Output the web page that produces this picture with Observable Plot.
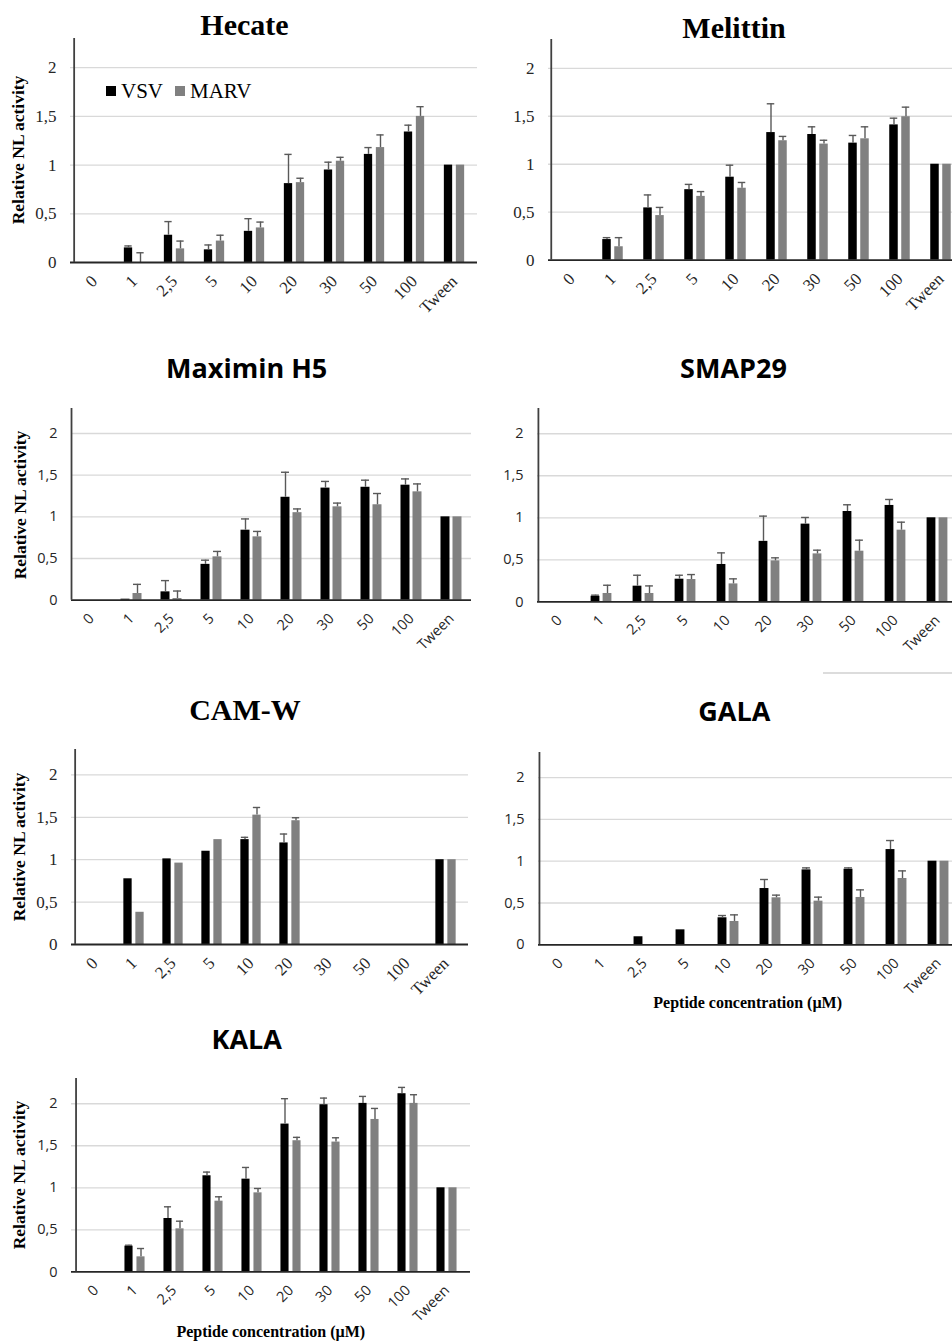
<!DOCTYPE html>
<html><head><meta charset="utf-8">
<script src="https://cdn.jsdelivr.net/npm/d3@7"></script>
<script src="https://cdn.jsdelivr.net/npm/@observablehq/plot@0.6"></script>
<style>
html,body{margin:0;padding:0;background:#fff;overflow:hidden;width:952px;height:1341px;}
#root{position:relative;width:952px;height:1341px;overflow:hidden;background:#fff;}
.t{position:absolute;white-space:nowrap;line-height:1;transform:translate(-50%,-50%);color:#000;}
.serif{font-family:"Liberation Serif","Times New Roman",serif;font-weight:bold;}
.sans{font-family:"Open Sans",sans-serif;font-weight:bold;}
.rot{transform:translate(-50%,-50%) rotate(-90deg);}
</style></head><body><div id="root"></div>
<script>
// ---------- data ----------
const categories = ["0","1","2,5","5","10","20","30","50","100","Tween"];
const seriesNames = ["VSV","MARV"];
const yTicks = [0, 0.5, 1, 1.5, 2];
const yTickLabels = ["0","0,5","1","1,5","2"];
const yLabel = "Relative NL activity";
const xLabel = "Peptide concentration (µM)";

const hecateVSV     = [0, 0.15, 0.28, 0.13, 0.32, 0.81, 0.95, 1.11, 1.34, 1];
const hecateVSVErr  = [null, 0.17, 0.42, 0.18, 0.45, 1.11, 1.03, 1.18, 1.41, null];
const hecateMARV    = [0, 0, 0.14, 0.22, 0.355, 0.82, 1.04, 1.18, 1.50, 1];
const hecateMARVErr = [null, 0.10, 0.22, 0.28, 0.415, 0.865, 1.08, 1.31, 1.60, null];

const melittinVSV     = [0, 0.215, 0.545, 0.735, 0.865, 1.33, 1.31, 1.22, 1.41, 1];
const melittinVSVErr  = [null, 0.235, 0.68, 0.79, 0.99, 1.63, 1.39, 1.30, 1.48, null];
const melittinMARV    = [0, 0.14, 0.465, 0.665, 0.75, 1.245, 1.21, 1.265, 1.495, 1];
const melittinMARVErr = [null, 0.235, 0.55, 0.715, 0.81, 1.29, 1.25, 1.39, 1.595, null];

const maximinVSV     = [0, 0.012, 0.10, 0.43, 0.84, 1.235, 1.345, 1.355, 1.38, 1];
const maximinVSVErr  = [null, null, 0.235, 0.48, 0.975, 1.535, 1.425, 1.44, 1.455, null];
const maximinMARV    = [0, 0.08, 0.02, 0.52, 0.76, 1.05, 1.12, 1.145, 1.30, 1];
const maximinMARVErr = [null, 0.19, 0.11, 0.585, 0.825, 1.095, 1.165, 1.28, 1.395, null];

const smapVSV     = [0, 0.067, 0.187, 0.27, 0.445, 0.72, 0.925, 1.075, 1.147, 1];
const smapVSVErr  = [null, 0.08, 0.317, 0.317, 0.583, 1.02, 1.004, 1.155, 1.218, null];
const smapMARV    = [0, 0.10, 0.10, 0.266, 0.214, 0.488, 0.571, 0.603, 0.853, 1];
const smapMARVErr = [null, 0.198, 0.19, 0.325, 0.274, 0.524, 0.615, 0.734, 0.948, null];

const camVSV     = [0, 0.775, 1.01, 1.10, 1.237, 1.198, null, null, null, 1];
const camVSVErr  = [null, null, null, null, 1.264, 1.303, null, null, null, null];
const camMARV    = [0, 0.38, 0.96, 1.237, 1.526, 1.46, null, null, null, 1];
const camMARVErr = [null, null, null, null, 1.616, 1.495, null, null, null, null];

const galaVSV     = [0, 0, 0.096, 0.179, 0.323, 0.673, 0.896, 0.904, 1.139, 1];
const galaVSVErr  = [null, null, null, null, 0.35, 0.781, 0.92, 0.92, 1.247, null];
const galaMARV    = [0, 0, 0, 0, 0.279, 0.562, 0.522, 0.566, 0.793, 1];
const galaMARVErr = [null, null, null, null, 0.358, 0.594, 0.57, 0.657, 0.884, null];

const kalaVSV     = [0, 0.306, 0.635, 1.143, 1.103, 1.758, 1.988, 2.004, 2.119, 1];
const kalaVSVErr  = [null, 0.317, 0.774, 1.187, 1.242, 2.06, 2.067, 2.087, 2.194, null];
const kalaMARV    = [0, 0.179, 0.512, 0.841, 0.94, 1.56, 1.544, 1.813, 2.004, 1];
const kalaMARVErr = [null, 0.278, 0.603, 0.893, 0.992, 1.60, 1.595, 1.944, 2.107, null];

// ---------- layout ----------
const SERIF = '"Liberation Serif","Times New Roman",serif';
const SANS = '"Open Sans",sans-serif';
const panels = [
  {name:"Hecate", font:"serif", axisX:70.4, topY:38, zeroY:262, right:477.4, title:[244.5,24.5], ylab:[19,150],
   vsv:hecateVSV, vsvErr:hecateVSVErr, marv:hecateMARV, marvErr:hecateMARVErr, legend:true},
  {name:"Melittin", font:"serif", axisX:548.4, topY:39.3, zeroY:260, right:963.4, title:[734,27.5],
   vsv:melittinVSV, vsvErr:melittinVSVErr, marv:melittinMARV, marvErr:melittinMARVErr},
  {name:"Maximin H5", font:"sans", axisX:71, topY:408.3, zeroY:600, right:471, title:[246.7,366.5], ylab:[20.5,504.5],
   vsv:maximinVSV, vsvErr:maximinVSVErr, marv:maximinMARV, marvErr:maximinMARVErr},
  {name:"SMAP29", font:"sans", axisX:537, topY:408.3, zeroY:601.7, right:959, title:[733.5,367],
   vsv:smapVSV, vsvErr:smapVSVErr, marv:smapMARV, marvErr:smapMARVErr},
  {name:"CAM-W", font:"serif", axisX:71, topY:749.3, zeroY:944.3, right:468, title:[245,709.5], ylab:[19.5,847],
   vsv:camVSV, vsvErr:camVSVErr, marv:camMARV, marvErr:camMARVErr},
  {name:"GALA", font:"sans", axisX:538, topY:751.7, zeroY:944, right:959, title:[734.3,710], xlab:[747.7,1002.5],
   vsv:galaVSV, vsvErr:galaVSVErr, marv:galaMARV, marvErr:galaMARVErr},
  {name:"KALA", font:"sans", axisX:71.4, topY:1078.3, zeroY:1271.7, right:470.4, title:[246.7,1037.5], ylab:[20,1175], xlab:[270.8,1331.5],
   vsv:kalaVSV, vsvErr:kalaVSVErr, marv:kalaMARV, marvErr:kalaMARVErr}
];

const root = document.getElementById("root");
const BAR_W = 9, OFF = 6, CAP_W = 8;

function addText(txt, cls, x, y, size, extra) {
  const d = document.createElement("div");
  d.className = "t " + cls + (extra ? " " + extra : "");
  d.textContent = txt;
  d.style.left = x + "px"; d.style.top = y + "px"; d.style.fontSize = size + "px";
  root.appendChild(d);
  return d;
}

function rows(vals, errs) {
  return categories.map((c, i) => ({cat: c, v: vals[i], e: errs[i]}));
}

for (const p of panels) {
  const w = p.right - p.axisX;
  const bw = w / categories.length;
  const ML = 52, MR = 2, MT = 2, MB = 66;
  const inset = (bw - BAR_W) / 2;
  const capInset = (bw - CAP_W) / 2;
  const serif = p.font === "serif";
  const fam = serif ? SERIF : SANS;
  const fs = serif ? 17 : 14.5;
  const sets = [[rows(p.vsv, p.vsvErr), -OFF, "#000000"], [rows(p.marv, p.marvErr), OFF, "#808080"]];
  const marks = [Plot.ruleY(yTicks.filter(t => t > 0), {stroke: "#d9d9d9", strokeWidth: 1.3})];
  for (const [d, dx, fill] of sets) {
    marks.push(Plot.barY(d.filter(r => r.v != null), {x: "cat", y1: 0, y2: "v", fill, insetLeft: inset, insetRight: inset, dx}));
  }
  for (const [d, dx] of sets) {
    const e = d.filter(r => r.e != null);
    marks.push(Plot.ruleX(e, {x: "cat", y1: "v", y2: "e", dx, stroke: "#595959", strokeWidth: 1.4}));
    marks.push(Plot.tickY(e, {x: "cat", y: "e", dx, insetLeft: capInset, insetRight: capInset, stroke: "#595959", strokeWidth: 1.4}));
  }
  marks.push(Plot.ruleY([0], {stroke: "#262626", strokeWidth: 1.8}));
  marks.push(Plot.ruleX([categories[0]], {x: d => d, dx: -bw / 2, stroke: "#404040", strokeWidth: 1.8}));
  marks.push(Plot.axisY({ticks: yTicks, tickFormat: t => yTickLabels[yTicks.indexOf(t)], tickSize: 0, tickPadding: 14, label: null, color: "#262626"}));
  marks.push(Plot.axisX({tickRotate: -45, tickSize: 0, tickPadding: 16, label: null, color: "#262626"}));
  const svg = Plot.plot({
    width: ML + w + MR, height: MT + (p.zeroY - p.topY) + MB,
    marginLeft: ML, marginRight: MR, marginTop: MT, marginBottom: MB,
    x: {type: "band", domain: categories, padding: 0, label: null},
    y: {domain: [0, 2.3], label: null},
    style: {fontFamily: fam, fontSize: fs + "px", background: "transparent", overflow: "visible"},
    marks
  });
  svg.style.position = "absolute";
  svg.style.left = (p.axisX - ML) + "px";
  svg.style.top = (p.topY - MT) + "px";
  svg.style.maxWidth = "none";
  root.appendChild(svg);

  addText(p.name, p.font, p.title[0], p.title[1], serif ? 30 : 27);
  if (p.ylab) addText(yLabel, "serif", p.ylab[0], p.ylab[1], 17.5, "rot");
  if (p.xlab) addText(xLabel, "serif", p.xlab[0], p.xlab[1], 16);
  if (p.legend) {
    const lg = document.createElement("div");
    lg.style.cssText = "position:absolute;left:106px;top:80.5px;display:flex;align-items:center;font-family:" + SERIF + ";font-size:21px;line-height:1;color:#000;";
    const colors = ["#000000", "#808080"];
    seriesNames.forEach((s, i) => {
      const sq = document.createElement("span");
      sq.style.cssText = "display:inline-block;width:10px;height:10px;background:" + colors[i] + ";margin-right:5px;" + (i ? "margin-left:12px;" : "");
      const tx = document.createElement("span");
      tx.textContent = s;
      lg.appendChild(sq); lg.appendChild(tx);
    });
    root.appendChild(lg);
  }
}
// stray separator line visible in the source figure
const sep = document.createElement("div");
sep.style.cssText = "position:absolute;left:823px;top:672px;width:129px;height:1.5px;background:#dcdcdc;";
root.appendChild(sep);
</script></body></html>
